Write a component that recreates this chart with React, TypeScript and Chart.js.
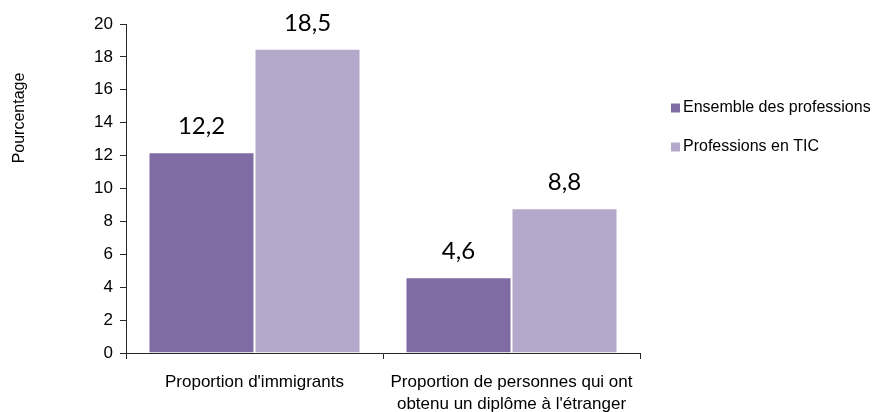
import React, { useEffect, useRef } from "react";
import { Chart, registerables } from "chart.js";

Chart.register(...registerables);

const categories: (string | string[])[] = [
  "Proportion d'immigrants",
  ["Proportion de personnes qui ont", "obtenu un diplôme à l'étranger"],
];
const seriesNames = ["Ensemble des professions", "Professions en TIC"];
const ensembleValues = [12.2, 4.6];
const ticValues = [18.5, 8.8];
const seriesColors = ["#806CA4", "#B4A9CA"];
const yTitle = "Pourcentage";
const yMin = 0;
const yMax = 20;
const yStep = 2;

const AXIS_FONT = "'Liberation Sans', Arial, sans-serif";

const labelsPlugin = {
  id: "valueLabels",
  afterDatasetsDraw(chart: any) {
    const ctx = chart.ctx;
    ctx.save();
    ctx.fillStyle = "#000";
    ctx.font = "24px Lato, 'Open Sans', sans-serif";
    ctx.textAlign = "center";
    ctx.textBaseline = "alphabetic";
    chart.data.datasets.forEach((ds: any, di: number) => {
      const meta = chart.getDatasetMeta(di);
      meta.data.forEach((bar: any, i: number) => {
        const v = ds.data[i];
        ctx.fillText(String(v).replace(".", ","), bar.x, bar.y - 18);
      });
    });
    ctx.restore();
  },
};

const extrasPlugin = {
  id: "extras",
  afterDraw(chart: any) {
    const ctx = chart.ctx;
    ctx.save();
    // y-axis title
    ctx.fillStyle = "#000";
    ctx.font = `16px ${AXIS_FONT}`;
    ctx.translate(20, 118);
    ctx.rotate(-Math.PI / 2);
    ctx.textAlign = "center";
    ctx.textBaseline = "middle";
    ctx.fillText(yTitle, 0, 0);
    ctx.restore();

    // legend
    ctx.save();
    ctx.font = `16px ${AXIS_FONT}`;
    ctx.textBaseline = "middle";
    ctx.textAlign = "left";
    const rows = [108, 147];
    chart.data.datasets.forEach((ds: any, i: number) => {
      const y = rows[i];
      ctx.fillStyle = ds.backgroundColor;
      ctx.fillRect(671, y - 4.5, 9, 9);
      ctx.fillStyle = "#000";
      ctx.fillText(ds.label, 683, y);
    });
    ctx.restore();
  },
};

export default function App() {
  const canvasRef = useRef<HTMLCanvasElement | null>(null);

  useEffect(() => {
    if (!canvasRef.current) return;
    const chart = new Chart(canvasRef.current, {
      type: "bar",
      data: {
        labels: categories as any,
        datasets: [
          {
            label: seriesNames[0],
            data: ensembleValues,
            backgroundColor: seriesColors[0],
            borderColor: "#FFFFFF",
            borderWidth: 1,
            categoryPercentage: 0.825,
            barPercentage: 1.0,
          },
          {
            label: seriesNames[1],
            data: ticValues,
            backgroundColor: seriesColors[1],
            borderColor: "#FFFFFF",
            borderWidth: 1,
            categoryPercentage: 0.825,
            barPercentage: 1.0,
          },
        ],
      },
      options: {
        animation: false,
        responsive: true,
        maintainAspectRatio: false,
        layout: { padding: { left: 0, right: 235, top: 24, bottom: 0 } },
        plugins: {
          legend: { display: false },
          tooltip: { enabled: false },
        },
        scales: {
          x: {
            offset: true,
            grid: {
              offset: true,
              drawOnChartArea: false,
              tickLength: 6,
              color: "#262626",
            },
            border: { color: "#262626", width: 1 },
            ticks: {
              color: "#000",
              font: { family: AXIS_FONT, size: 17, lineHeight: 1.3 },
              padding: 12,
              maxRotation: 0,
              autoSkip: false,
            },
            afterFit: (scale: any) => {
              scale.height = 59;
            },
          },
          y: {
            min: yMin,
            max: yMax,
            grid: {
              drawOnChartArea: false,
              tickLength: 6,
              color: "#262626",
            },
            border: { color: "#262626", width: 1 },
            ticks: {
              stepSize: yStep,
              color: "#000",
              font: { family: AXIS_FONT, size: 17 },
              padding: 7,
            },
            afterFit: (scale: any) => {
              scale.width = 126;
            },
          },
        },
      },
      plugins: [labelsPlugin, extrasPlugin],
    });
    return () => chart.destroy();
  }, []);

  return (
    <div
      style={{
        position: "fixed",
        left: 0,
        top: 0,
        width: 875,
        height: 412,
        background: "#fff",
      }}
    >
      <canvas ref={canvasRef} />
    </div>
  );
}
